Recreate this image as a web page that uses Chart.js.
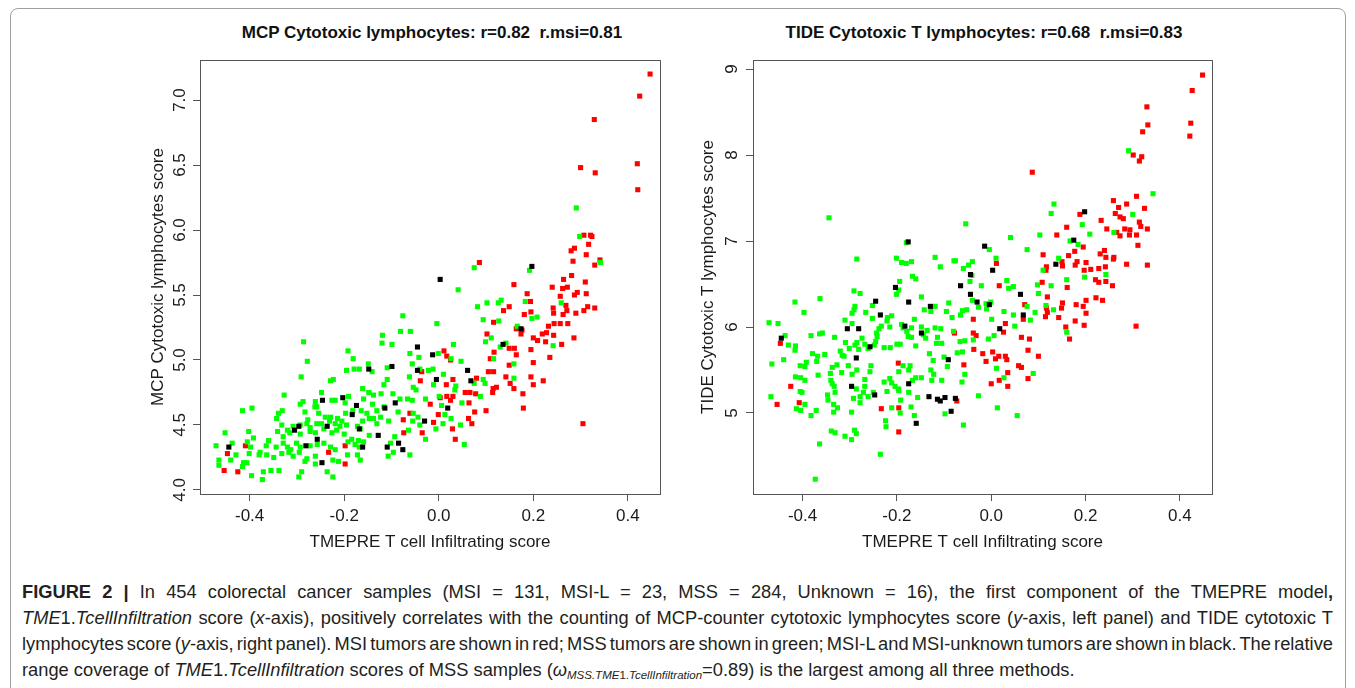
<!DOCTYPE html>
<html><head><meta charset="utf-8">
<script src="https://cdn.jsdelivr.net/npm/chart.js@4.4.1/dist/chart.umd.min.js"></script>
<style>
html,body{margin:0;padding:0;background:#fff;}
body{width:1355px;height:688px;position:relative;overflow:hidden;font-family:"Liberation Sans",Arial,sans-serif;}
#frame{position:absolute;left:10px;top:8px;width:1336px;height:700px;border:1px solid #a0a0a0;border-radius:8px;box-sizing:border-box;}
.ptitle{position:absolute;top:23px;font-weight:bold;font-size:17px;line-height:19px;white-space:pre;transform:translateX(-50%);color:#111;}
#w1{position:absolute;left:0;top:0;width:690px;height:570px;}
#w2{position:absolute;left:690px;top:0;width:540px;height:570px;}
#caption{position:absolute;left:22px;top:579px;width:1311px;font-size:18.3px;line-height:26px;color:#231f20;}
.ln{white-space:nowrap;text-align:justify;text-align-last:justify;word-spacing:-3px;}
.last{text-align:left;text-align-last:left;word-spacing:0;}
sub{font-size:11.5px;line-height:0;vertical-align:-3px;}
</style></head>
<body>
<div id="frame"></div>
<div class="ptitle" style="left:432px">MCP Cytotoxic lymphocytes: r=0.82  r.msi=0.81</div>
<div class="ptitle" style="left:984px">TIDE Cytotoxic T lymphocytes: r=0.68  r.msi=0.83</div>
<div id="w1"><canvas id="c1" width="690" height="570"></canvas></div>
<div id="w2"><canvas id="c2" width="540" height="570"></canvas></div>
<div id="caption">
<div class="ln"><b>FIGURE 2 |</b> In 454 colorectal cancer samples (MSI = 131, MSI-L = 23, MSS = 284, Unknown = 16), the first component of the TMEPRE model<b>,</b></div>
<div class="ln"><i>TME</i>1.<i>TcellInfiltration</i> score (<i>x</i>-axis), positively correlates with the counting of MCP-counter cytotoxic lymphocytes score (<i>y</i>-axis, left panel) and TIDE cytotoxic T</div>
<div class="ln">lymphocytes score (<i>y</i>-axis, right panel). MSI tumors are shown in red; MSS tumors are shown in green; MSI-L and MSI-unknown tumors are shown in black. The relative</div>
<div class="ln last">range coverage of <i>TME</i>1.<i>TcellInfiltration</i> scores of MSS samples (<i>ω</i><sub><i>MSS.TME</i>1.<i>TcellInfiltration</i></sub>=0.89) is the largest among all three methods.</div>
</div>
<script>
// ---------- data ----------
const xTickValues = [-0.4, -0.2, 0.0, 0.2, 0.4];
const xTickLabels = ['-0.4', '-0.2', '0.0', '0.2', '0.4'];
const mcpYTicks = [4.0, 4.5, 5.0, 5.5, 6.0, 6.5, 7.0];
const mcpYLabels = ['4.0', '4.5', '5.0', '5.5', '6.0', '6.5', '7.0'];
const tideYTicks = [5, 6, 7, 8, 9];
const tideYLabels = ['5', '6', '7', '8', '9'];

// MCP panel: MSS (green)
const mcpMSS = [
[-0.076,5.34],[-0.081,5.22],[-0.060,5.22],[-0.119,5.19],[-0.120,5.13],[-0.099,5.12],[-0.286,5.14],[-0.278,4.99],[-0.192,5.07],[-0.181,5.01],
[-0.149,4.97],[-0.195,4.92],[-0.179,4.93],[-0.168,4.93],[-0.141,4.91],[-0.109,4.94],[-0.061,5.05],[-0.042,5.02],[-0.056,4.97],[-0.291,4.87],
[-0.229,4.84],[-0.223,4.85],[-0.116,4.81],[-0.109,4.85],[-0.062,4.87],[-0.054,4.79],[-0.048,4.77],[-0.248,4.75],[-0.161,4.78],[-0.148,4.75],
[-0.138,4.73],[-0.122,4.74],[-0.327,4.73],[-0.293,4.66],[-0.287,4.68],[-0.261,4.68],[-0.258,4.64],[-0.226,4.69],[-0.219,4.69],[-0.191,4.72],
[-0.198,4.67],[-0.159,4.70],[-0.140,4.66],[-0.097,4.74],[-0.082,4.70],[-0.066,4.70],[-0.056,4.69],[-0.415,4.61],[-0.395,4.63],[-0.339,4.59],
[-0.331,4.61],[-0.343,4.55],[-0.283,4.60],[-0.277,4.54],[-0.262,4.64],[-0.254,4.59],[-0.240,4.56],[-0.229,4.56],[-0.205,4.53],[-0.214,4.55],
[-0.197,4.59],[-0.182,4.61],[-0.164,4.61],[-0.152,4.59],[-0.147,4.55],[-0.131,4.51],[-0.123,4.56],[-0.131,4.61],[-0.116,4.64],[-0.086,4.60],
[-0.054,4.59],[-0.044,4.56],[-0.332,4.50],[-0.320,4.46],[-0.308,4.49],[-0.293,4.50],[-0.279,4.51],[-0.272,4.48],[-0.258,4.51],[-0.248,4.51],
[-0.231,4.53],[-0.219,4.51],[-0.209,4.49],[-0.195,4.50],[-0.172,4.49],[-0.161,4.53],[-0.138,4.55],[-0.106,4.53],[-0.064,4.46],[-0.055,4.53],
[-0.452,4.44],[-0.402,4.45],[-0.392,4.40],[-0.341,4.45],[-0.329,4.41],[-0.315,4.44],[-0.293,4.43],[-0.272,4.45],[-0.261,4.44],[-0.243,4.47],
[-0.226,4.44],[-0.216,4.46],[-0.200,4.43],[-0.184,4.39],[-0.166,4.47],[-0.170,4.38],[-0.147,4.42],[-0.093,4.41],[-0.471,4.34],[-0.437,4.36],
[-0.405,4.37],[-0.398,4.33],[-0.360,4.38],[-0.378,4.29],[-0.365,4.34],[-0.344,4.33],[-0.329,4.36],[-0.320,4.33],[-0.313,4.31],[-0.301,4.36],
[-0.293,4.33],[-0.272,4.34],[-0.257,4.35],[-0.243,4.36],[-0.229,4.33],[-0.219,4.31],[-0.192,4.37],[-0.177,4.35],[-0.168,4.33],[-0.159,4.37],
[-0.102,4.36],[-0.096,4.29],[-0.061,4.27],[-0.429,4.27],[-0.401,4.28],[-0.380,4.27],[-0.364,4.27],[-0.349,4.25],[-0.332,4.28],[-0.317,4.29],
[-0.308,4.26],[-0.295,4.29],[-0.279,4.24],[-0.261,4.26],[-0.224,4.23],[-0.212,4.22],[-0.193,4.27],[-0.172,4.27],[-0.166,4.23],[-0.107,4.26],
[-0.465,4.23],[-0.440,4.23],[-0.413,4.21],[-0.406,4.21],[-0.465,4.19],[-0.415,4.18],[-0.371,4.14],[-0.355,4.15],[-0.338,4.15],[-0.290,4.14],
[-0.283,4.22],[-0.236,4.14],[-0.224,4.10],[-0.396,4.11],[-0.373,4.08],[-0.296,4.10],[-0.261,4.20],
[0.075,5.71],[0.192,5.69],[0.342,5.75],[0.041,5.54],[0.082,5.41],[0.102,5.44],[0.132,5.46],[0.126,5.44],[0.183,5.45],[0.259,5.44],
[0.094,5.31],[0.127,5.30],[0.197,5.32],[0.208,5.33],[0.166,5.26],[-0.004,5.28],[0.111,5.17],[0.099,5.14],[0.130,5.10],[0.142,5.13],
[0.242,5.11],[0.031,5.12],[-0.001,5.05],[0.026,5.01],[0.047,4.99],[0.116,5.01],[0.159,4.97],[0.159,4.86],[-0.022,4.92],[-0.012,4.93],
[-0.040,4.93],[0.010,4.89],[0.094,4.85],[0.098,4.82],[0.075,4.82],[0.036,4.80],[0.034,4.77],[-0.011,4.81],[0.088,4.72],[0.049,4.67],
[-0.028,4.70],[0.001,4.72],[0.006,4.65],[0.013,4.58],[0.026,4.55],[0.046,4.50],[0.054,4.35],[0.009,4.51],[-0.006,4.47],[-0.028,4.39],
[-0.040,4.50],[0.291,6.17],[0.298,5.95]
];
// MCP panel: MSI (red)
const mcpMSI = [
[-0.075,4.54],[-0.074,4.44],[-0.061,4.59],[-0.198,4.34],[-0.233,4.29],[-0.198,4.20],[-0.447,4.28],[-0.409,4.34],[-0.454,4.15],[-0.425,4.14],
[0.280,5.84],[0.312,5.81],[0.284,5.76],[0.330,5.73],[0.341,5.77],[0.086,5.75],[0.159,5.58],[0.264,5.62],[0.281,5.65],[0.310,5.60],
[0.240,5.56],[0.262,5.55],[0.272,5.56],[0.257,5.49],[0.287,5.50],[0.293,5.52],[0.312,5.51],[0.187,5.51],[0.194,5.45],[0.137,5.38],
[0.149,5.41],[0.181,5.35],[0.195,5.37],[0.242,5.40],[0.243,5.36],[0.269,5.42],[0.271,5.38],[0.263,5.35],[0.290,5.36],[0.307,5.38],
[0.315,5.41],[0.330,5.40],[0.116,5.29],[0.232,5.26],[0.244,5.28],[0.257,5.28],[0.273,5.28],[0.164,5.24],[0.176,5.23],[0.174,5.20],
[0.219,5.20],[0.228,5.21],[0.200,5.17],[0.209,5.15],[0.226,5.14],[0.243,5.19],[0.286,5.17],[0.260,5.12],[0.102,5.20],[0.117,5.06],
[0.109,5.01],[0.149,5.09],[0.160,5.09],[0.164,5.04],[0.195,5.08],[0.235,5.02],[0.200,4.98],[0.011,5.07],[0.017,5.03],[0.025,5.00],
[0.105,4.91],[0.116,4.91],[0.149,4.96],[0.142,4.87],[0.151,4.82],[0.159,4.78],[0.080,4.86],[0.030,4.85],[0.195,4.87],[0.200,4.81],
[0.221,4.84],[0.115,4.78],[0.122,4.79],[0.114,4.75],[0.056,4.75],[0.066,4.75],[0.078,4.74],[0.016,4.81],[0.017,4.72],[0.030,4.72],
[0.025,4.69],[0.003,4.71],[-0.018,4.66],[-0.039,4.84],[-0.036,4.91],[0.064,4.67],[0.076,4.60],[0.100,4.61],[0.178,4.74],[0.179,4.63],
[-0.001,4.58],[0.063,4.55],[0.070,4.51],[-0.011,4.52],[0.029,4.47],[0.035,4.39],[-0.035,4.44],[0.305,4.51],
[0.425,7.03],[0.329,6.85],[0.420,6.51],[0.300,6.48],[0.331,6.44],[0.421,6.31],[0.307,5.96],[0.321,5.96],[0.324,5.95],[0.317,5.89],
[0.287,5.86],[0.447,7.20]
];
// MCP panel: MSI-L / unknown (black)
const mcpOther = [
[-0.045,5.10],[-0.148,4.93],[-0.099,4.95],[-0.045,4.92],[-0.246,4.69],[-0.203,4.71],[-0.174,4.65],[-0.114,4.63],[-0.092,4.67],[-0.183,4.58],
[-0.296,4.49],[-0.305,4.46],[-0.168,4.47],[-0.128,4.42],[-0.281,4.34],[-0.257,4.39],[-0.236,4.49],[-0.161,4.33],[-0.109,4.33],[-0.085,4.36],
[-0.076,4.31],[-0.444,4.33],[-0.247,4.21],
[0.197,5.72],[0.003,5.62],[0.174,5.24],[0.136,5.12],[-0.013,5.04],[0.061,4.92],[-0.005,4.85],[0.068,4.84],[0.019,4.63],[-0.030,4.53]
];

// TIDE panel: MSS (green)
const tideMSS = [
[-0.344,7.27],[-0.180,6.98],[-0.285,6.79],[-0.201,6.80],[-0.190,6.75],[-0.180,6.74],[-0.169,6.76],[-0.119,6.81],[-0.108,6.70],[-0.079,6.77],
[-0.167,6.59],[-0.160,6.56],[-0.194,6.53],[-0.196,6.43],[-0.201,6.38],[-0.291,6.42],[-0.278,6.39],[-0.148,6.35],[-0.416,6.29],[-0.363,6.33],
[-0.397,6.17],[-0.289,6.24],[-0.291,6.20],[-0.295,6.16],[-0.266,6.17],[-0.252,6.25],[-0.252,6.10],[-0.310,6.08],[-0.295,6.04],[-0.471,6.05],
[-0.452,6.04],[-0.220,6.11],[-0.211,6.13],[-0.221,6.07],[-0.215,6.00],[-0.233,6.01],[-0.238,5.98],[-0.190,6.03],[-0.187,5.99],[-0.169,5.99],
[-0.163,6.09],[-0.148,6.00],[-0.136,5.96],[-0.119,5.99],[-0.107,5.98],[-0.090,6.28],[-0.095,6.18],[-0.083,6.11],[-0.080,5.95],[-0.119,6.24],
[-0.142,6.20],[-0.128,6.18],[-0.114,5.88],[-0.116,5.81],[-0.105,5.81],[-0.139,5.87],[-0.144,5.91],[-0.179,5.95],[-0.176,5.89],[-0.169,5.88],
[-0.160,5.78],[-0.193,5.80],[-0.200,5.80],[-0.227,5.76],[-0.214,5.76],[-0.243,5.93],[-0.242,5.89],[-0.245,5.83],[-0.437,5.90],[-0.430,5.79],
[-0.415,5.78],[-0.416,5.73],[-0.382,5.90],[-0.364,5.92],[-0.358,5.93],[-0.332,5.88],[-0.309,5.82],[-0.301,5.75],[-0.289,5.79],[-0.285,5.82],
[-0.274,5.87],[-0.281,5.74],[-0.268,5.80],[-0.261,5.75],[-0.248,5.79],[-0.379,5.69],[-0.368,5.66],[-0.353,5.68],[-0.370,5.60],[-0.320,5.72],
[-0.316,5.67],[-0.312,5.66],[-0.327,5.56],[-0.337,5.53],[-0.341,5.46],[-0.317,5.47],[-0.303,5.55],[-0.295,5.45],[-0.285,5.50],[-0.255,5.55],
[-0.257,5.48],[-0.227,5.36],[-0.215,5.40],[-0.211,5.35],[-0.204,5.31],[-0.197,5.28],[-0.196,5.48],[-0.187,5.55],[-0.175,5.50],[-0.172,5.55],
[-0.167,5.38],[-0.160,5.41],[-0.148,5.41],[-0.131,5.69],[-0.123,5.61],[-0.128,5.50],[-0.122,5.45],[-0.100,5.65],[-0.093,5.54],[-0.126,5.38],
[-0.105,5.38],[-0.465,5.57],[-0.440,5.62],[-0.405,5.55],[-0.392,5.59],[-0.395,5.54],[-0.415,5.42],[-0.404,5.41],[-0.395,5.38],[-0.367,5.44],
[-0.340,5.38],[-0.337,5.34],[-0.333,5.31],[-0.347,5.21],[-0.331,5.24],[-0.346,5.15],[-0.334,5.10],[-0.326,5.06],[-0.334,5.01],[-0.405,5.25],
[-0.401,5.24],[-0.395,5.10],[-0.413,5.05],[-0.404,5.03],[-0.371,5.03],[-0.382,4.97],[-0.467,5.19],[-0.292,5.17],[-0.286,5.28],[-0.278,5.19],
[-0.271,5.24],[-0.268,5.31],[-0.268,5.39],[-0.278,5.12],[-0.261,5.19],[-0.250,5.24],[-0.221,5.25],[-0.196,5.26],[-0.175,5.24],[-0.156,5.18],
[-0.192,5.15],[-0.211,5.06],[-0.193,5.00],[-0.170,5.07],[-0.163,4.97],[-0.296,5.01],[-0.224,4.91],[-0.223,4.84],[-0.339,4.79],[-0.331,4.77],
[-0.310,4.73],[-0.290,4.80],[-0.286,4.76],[-0.296,4.69],[-0.364,4.64],[-0.235,4.52],[-0.098,4.99],[-0.373,4.23],
[0.133,7.43],[0.127,7.32],[-0.054,7.20],[0.041,7.04],[0.103,7.07],[0.193,7.19],[0.209,7.08],[0.300,7.31],[0.260,7.10],[0.167,7.00],
[0.184,6.96],[0.076,6.90],[-0.004,6.90],[0.010,6.80],[0.143,6.80],[-0.076,6.77],[-0.059,6.68],[-0.048,6.72],[-0.040,6.76],[-0.041,6.60],
[-0.045,6.53],[0.110,6.66],[0.160,6.55],[0.198,6.58],[0.243,6.61],[-0.021,6.48],[0.033,6.54],[0.037,6.45],[0.047,6.47],[0.098,6.49],
[0.127,6.48],[0.100,6.39],[-0.001,6.29],[-0.011,6.27],[-0.010,6.21],[-0.027,6.23],[-0.040,6.31],[0.076,6.24],[0.093,6.17],[0.116,6.25],
[0.132,6.20],[0.027,6.18],[0.047,6.14],[0.083,6.08],[0.001,6.09],[-0.052,6.20],[-0.061,6.19],[-0.065,6.14],[0.050,6.01],[0.006,5.90],
[-0.006,5.86],[-0.056,5.84],[-0.066,5.83],[-0.038,5.85],[-0.061,5.71],[-0.072,5.70],[0.160,5.94],[0.011,5.52],[-0.056,5.45],[-0.062,5.36],
[0.089,5.46],[0.027,5.41],[-0.027,5.20],[0.013,5.06],[0.055,4.97],[-0.059,4.86],[0.291,8.05],[0.343,7.55]
];
// TIDE panel: MSI (red)
const tideMSI = [
[-0.447,5.81],[-0.425,5.31],[-0.454,5.10],[-0.407,5.12],[-0.197,5.58],[-0.233,5.05],[-0.196,5.06],[-0.196,4.78],[-0.078,5.93],
[0.259,7.47],[0.270,7.39],[0.287,7.43],[0.325,7.38],[0.263,7.32],[0.273,7.28],[0.280,7.26],[0.188,7.31],[0.233,7.24],[0.245,7.14],
[0.283,7.14],[0.294,7.13],[0.314,7.22],[0.317,7.17],[0.331,7.14],[0.266,7.10],[0.273,7.06],[0.293,7.07],[0.308,7.07],[0.311,6.95],
[0.160,7.16],[0.139,7.07],[0.195,6.93],[0.177,6.88],[0.164,6.83],[0.182,6.76],[0.178,6.72],[0.201,6.75],[0.231,6.85],[0.240,6.89],
[0.243,6.81],[0.260,6.81],[0.259,6.79],[0.287,6.73],[0.331,6.72],[0.242,6.70],[0.228,6.68],[0.211,6.67],[0.197,6.66],[0.221,6.55],
[0.228,6.52],[0.243,6.53],[0.257,6.48],[0.110,6.84],[0.117,6.70],[0.116,6.66],[0.150,6.76],[0.151,6.71],[0.108,6.52],[0.119,6.35],
[0.161,6.46],[0.201,6.31],[0.222,6.34],[0.236,6.31],[0.151,6.28],[0.149,6.22],[0.180,6.26],[0.195,6.24],[0.201,6.16],[0.143,6.11],
[0.115,6.12],[0.119,6.17],[0.071,6.26],[0.068,6.09],[0.158,6.00],[0.166,5.86],[0.178,6.07],[0.197,6.02],[0.307,6.01],[0.011,6.74],
[0.017,6.48],[-0.038,6.09],[0.030,6.04],[0.026,5.94],[-0.038,5.93],[-0.032,5.90],[0.064,5.88],[0.081,5.86],[0.078,5.73],[0.100,5.66],
[-0.037,5.74],[-0.018,5.69],[-0.011,5.60],[0.003,5.71],[0.016,5.66],[0.009,5.63],[0.030,5.66],[0.033,5.62],[-0.058,5.56],[0.058,5.55],
[0.064,5.53],[0.035,5.47],[0.017,5.38],[0.000,5.34],[0.035,5.31],[0.078,5.40],[-0.073,5.14],[0.117,6.22],
[0.448,8.93],[0.426,8.75],[0.330,8.56],[0.423,8.37],[0.332,8.35],[0.321,8.27],[0.421,8.22],[0.301,8.00],[0.319,7.98],[0.314,7.93],
[0.308,7.52],[0.087,7.80]
];
// TIDE panel: MSI-L / unknown (black)
const tideOther = [
[-0.176,6.99],[-0.203,6.46],[-0.245,6.30],[-0.175,6.29],[-0.129,6.24],[-0.235,6.14],[-0.305,5.98],[-0.281,5.98],[-0.445,5.87],[-0.257,5.77],
[-0.286,5.64],[-0.183,6.01],[-0.148,5.93],[-0.091,5.62],[-0.296,5.31],[-0.175,5.34],[-0.247,5.21],[-0.132,5.19],[-0.114,5.16],[-0.108,5.14],
[-0.098,5.18],[-0.085,5.02],[-0.159,4.88],
[0.198,7.34],[0.175,7.01],[-0.014,6.94],[0.003,6.66],[0.137,6.73],[-0.044,6.61],[-0.065,6.48],[-0.044,6.38],[-0.030,6.29],[0.062,6.38],
[-0.004,6.26],[0.068,6.14],[0.018,5.98],[-0.076,5.17]
];

// ---------- drawing ----------
const FAM = '"Liberation Sans", Arial, sans-serif';
const AXIS = '#555555';
const TXT = '#1a1a1a';
const PT = 3.6;

function ds(label, pts, color) {
  return { label, data: pts.map(p => ({ x: p[0], y: p[1] })), backgroundColor: color, borderWidth: 0,
           pointStyle: 'rect', pointRadius: PT, pointHoverRadius: PT };
}

const boxPlugin = {
  id: 'rbox',
  afterDraw(chart, args, opts) {
    const { ctx, chartArea: a } = chart;
    ctx.save();
    ctx.strokeStyle = AXIS; ctx.lineWidth = 1;
    ctx.strokeRect(Math.round(a.left) + 0.5, Math.round(a.top) + 0.5, Math.round(a.right - a.left), Math.round(a.bottom - a.top));
    // rotated y tick labels (R style)
    const ys = chart.scales.y;
    ctx.fillStyle = TXT;
    ctx.font = '17px ' + FAM;
    ctx.textAlign = 'center';
    ctx.textBaseline = 'middle';
    ys.ticks.forEach((t, i) => {
      const py = ys.getPixelForValue(t.value);
      ctx.save();
      ctx.translate(a.left - opts.offset, py);
      ctx.rotate(-Math.PI / 2);
      ctx.fillText(opts.labels[i], 0, 0);
      ctx.restore();
    });
    ctx.restore();
  }
};

function makeChart(id, sets, yTicks, yLabels, yMin, yMax, yTitle, padL, padR, yW, lblOff) {
  const gridCfg = { display: true, drawOnChartArea: false, drawTicks: true, tickLength: 7, color: AXIS, lineWidth: 1 };
  return new Chart(document.getElementById(id), {
    type: 'scatter',
    data: { datasets: sets },
    plugins: [boxPlugin],
    options: {
      responsive: false, animation: false, devicePixelRatio: 1,
      layout: { padding: { left: padL, right: padR, top: 60, bottom: 0 } },
      plugins: { legend: { display: false }, tooltip: { enabled: false }, title: { display: false },
                 rbox: { labels: yLabels, offset: lblOff } },
      scales: {
        x: {
          type: 'linear', position: 'bottom', min: -0.505, max: 0.468, bounds: 'data',
          afterBuildTicks: s => { s.ticks = xTickValues.map(v => ({ value: v })); },
          afterFit: s => { s.height = 76; },
          grid: gridCfg, border: { display: true, color: AXIS, width: 1 },
          ticks: { font: { size: 17, family: FAM }, color: TXT, padding: 5, maxRotation: 0, minRotation: 0, autoSkip: false,
                   callback: (v, i) => xTickLabels[i] },
          title: { display: true, text: 'TMEPRE T cell Infiltrating score', font: { size: 17, family: FAM }, color: TXT,
                   padding: { top: 0, bottom: 17.8 } }
        },
        y: {
          type: 'linear', position: 'left', min: yMin, max: yMax, bounds: 'data',
          afterBuildTicks: s => { s.ticks = yTicks.map(v => ({ value: v })); },
          afterFit: s => { s.width = yW; },
          grid: gridCfg, border: { display: true, color: AXIS, width: 1 },
          ticks: { display: false },
          title: { display: true, text: yTitle, font: { size: 17, family: FAM }, color: TXT, padding: { top: 0, bottom: 0 } }
        }
      }
    }
  });
}

makeChart('c1',
  [ds('MSI-L/Unknown', mcpOther, '#000000'), ds('MSS', mcpMSS, '#00ff00'), ds('MSI', mcpMSI, '#ff0000')],
  mcpYTicks, mcpYLabels, 3.969, 7.308, 'MCP Cytotoxic lymphocytes score', 148, 30, 52, 20);

makeChart('c2',
  [ds('MSI-L/Unknown', tideOther, '#000000'), ds('MSS', tideMSS, '#00ff00'), ds('MSI', tideMSI, '#ff0000')],
  tideYTicks, tideYLabels, 4.058, 9.105, 'TIDE Cytotoxic T lymphocytes score', 8, 18, 55, 21);
</script>
</body></html>
